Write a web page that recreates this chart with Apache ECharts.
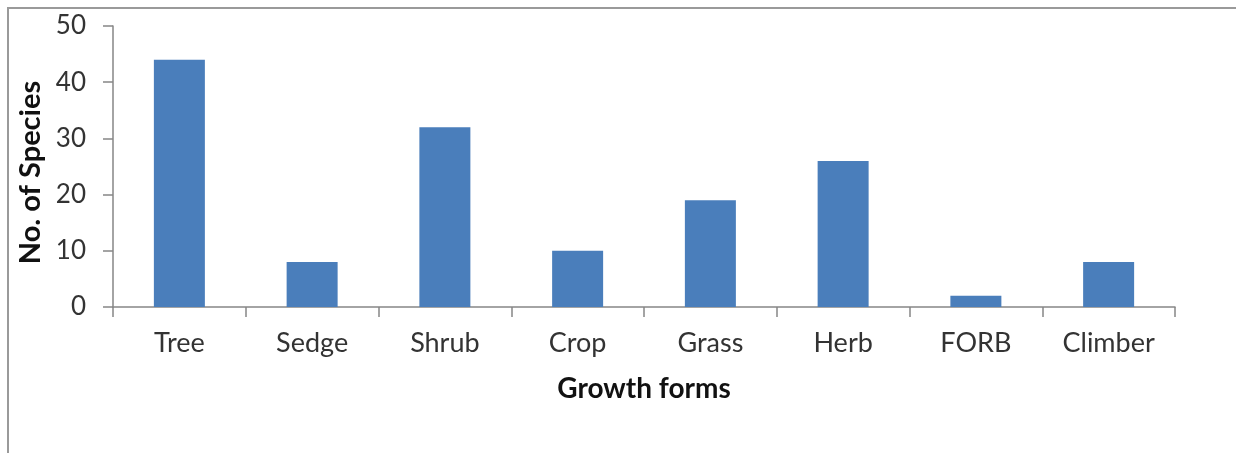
<!DOCTYPE html>
<html><head><meta charset="utf-8">
<script src="https://cdn.jsdelivr.net/npm/echarts@6/dist/echarts.min.js"></script>
<style>
html,body{margin:0;padding:0;background:#fff;}
#frame{position:absolute;left:7px;top:7px;width:1240px;height:460px;border-left:2px solid #9a9a9a;border-top:2px solid #9a9a9a;}
#c{position:absolute;left:0;top:0;width:1236px;height:453px;}
</style></head>
<body>
<div id="frame"></div>
<div id="c"></div>
<script>
const categories = ["Tree","Sedge","Shrub","Crop","Grass","Herb","FORB","Climber"];
const species = [44, 8, 32, 10, 19, 26, 2, 8];
const yTicks = [0, 10, 20, 30, 40, 50];

const chart = echarts.init(document.getElementById('c'), null, {renderer:'canvas'});
const font = 'Lato, "Open Sans", sans-serif';
chart.setOption({
  animation:false,
  backgroundColor:'transparent',
  grid:{left:113, right:61, top:26, bottom:146, containLabel:false},
  xAxis:{
    type:'category', data:categories,
    name:'Growth forms', nameLocation:'middle', nameGap:68,
    nameTextStyle:{fontFamily:font, fontSize:28, fontWeight:'bold', color:'#111'},
    axisLine:{lineStyle:{color:'#868686', width:1.5}},
    axisTick:{show:true, alignWithLabel:false, length:10, lineStyle:{color:'#868686', width:1.5}},
    axisLabel:{fontFamily:font, fontSize:27, color:'#333', margin:23}
  },
  yAxis:{
    type:'value', min:yTicks[0], max:yTicks[yTicks.length-1], interval:10,
    name:'No. of Species', nameLocation:'middle', nameGap:68,
    nameTextStyle:{fontFamily:font, fontSize:29, fontWeight:'bold', color:'#111', padding:[0,12,0,0]},
    axisLine:{show:true, lineStyle:{color:'#868686', width:1.5}},
    axisTick:{show:true, length:10, lineStyle:{color:'#868686', width:1.5}},
    splitLine:{show:false},
    axisLabel:{fontFamily:font, fontSize:26, color:'#333', margin:27}
  },
  series:[{
    type:'bar', data:species, barWidth:51,
    itemStyle:{color:'#4a7ebb'}
  }]
});
</script>
</body></html>
